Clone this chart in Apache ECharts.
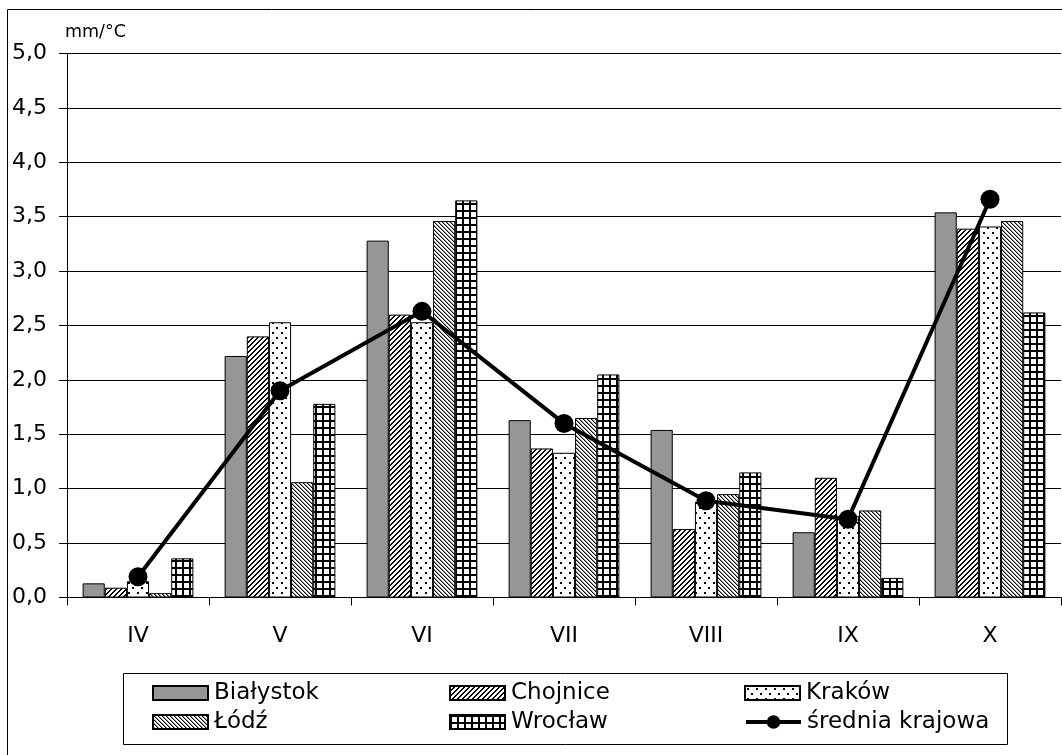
<!DOCTYPE html>
<html>
<head>
<meta charset="utf-8">
<script src="https://cdn.jsdelivr.net/npm/echarts@6/dist/echarts.min.js"></script>
<style>html,body{margin:0;padding:0;background:#fff;}#c{width:1062px;height:755px;}</style>
</head>
<body>
<div id="c"></div>
<script>
const categories = ['IV', 'V', 'VI', 'VII', 'VIII', 'IX', 'X'];
const seriesNames = ['Białystok', 'Chojnice', 'Kraków', 'Łódź', 'Wrocław', 'średnia krajowa'];
const bialystok = [0.13, 2.22, 3.28, 1.63, 1.54, 0.60, 3.54];
const chojnice  = [0.09, 2.40, 2.60, 1.37, 0.63, 1.10, 3.39];
const krakow    = [0.15, 2.53, 2.53, 1.33, 0.88, 0.75, 3.41];
const lodz      = [0.04, 1.06, 3.46, 1.65, 0.95, 0.80, 3.46];
const wroclaw   = [0.36, 1.78, 3.65, 2.05, 1.15, 0.18, 2.62];
const srednia   = [0.19, 1.90, 2.63, 1.60, 0.89, 0.72, 3.66];
const yMin = 0, yMax = 5, yStep = 0.5;
const unitLabel = 'mm/°C';

function tile(w, h, draw) {
  const c = document.createElement('canvas');
  c.width = w; c.height = h;
  const x = c.getContext('2d');
  x.fillStyle = '#fff'; x.fillRect(0, 0, w, h);
  x.fillStyle = '#000';
  draw(x, w, h);
  return c;
}
const patSlash = tile(5, 5, (x) => { for (let y = 0; y < 5; y++) { const x0 = 4 - y; x.fillRect(x0, y, 1, 1); x.fillRect((x0 + 1) % 5, y, 1, 1); } });
const patBack = tile(4, 4, (x) => {
  for (let y = 0; y < 4; y++) { x.fillStyle = '#000'; x.fillRect(y, y, 1, 1); x.fillStyle = '#999'; x.fillRect((y + 1) % 4, y, 1, 1); }
});
const patDots = tile(9, 10, (x) => { x.fillRect(2, 2, 2, 2); x.fillRect(6, 7, 2, 2); });
const patGrid = tile(7, 7, (x) => { x.fillRect(0, 0, 7, 2); x.fillRect(0, 0, 2, 7); });

const FONT = 'DejaVu Sans';
function barSeries(name, data, color) {
  return {
    name, type: 'bar', data,
    barGap: '0%', barCategoryGap: '22%',
    itemStyle: { color, borderColor: '#000', borderWidth: 1 },
    emphasis: { disabled: true }
  };
}
const legendCommon = {
  itemWidth: 55, itemHeight: 14, padding: 0, icon: 'rect',
  textStyle: { fontFamily: FONT, fontSize: 23, color: '#000', lineHeight: 24, padding: [0, 0, 0, 1] },
  selectedMode: false
};
const chart = echarts.init(document.getElementById('c'));
chart.setOption({
  animation: false,
  backgroundColor: '#fff',
  grid: { left: 67, right: 1, top: 53.5, bottom: 157.5 },
  xAxis: {
    type: 'category', data: categories,
    axisLine: { lineStyle: { color: '#000', width: 1 } },
    axisTick: { show: true, length: 8, lineStyle: { color: '#000' } },
    axisLabel: { fontFamily: FONT, fontSize: 22, color: '#000', margin: 28 }
  },
  yAxis: {
    type: 'value', min: yMin, max: yMax, interval: yStep,
    name: unitLabel, nameLocation: 'end', nameGap: 12,
    nameTextStyle: { fontFamily: FONT, fontSize: 17.5, color: '#000', align: 'left', padding: [0, 0, 0, -2] },
    axisLine: { show: true, lineStyle: { color: '#000', width: 1 } },
    axisTick: { show: true, length: 8, lineStyle: { color: '#000' } },
    axisLabel: { fontFamily: FONT, fontSize: 22, color: '#000', margin: 20,
      formatter: (v) => v.toFixed(1).replace('.', ',') },
    splitLine: { show: true, lineStyle: { color: '#000', width: 1 } }
  },
  legend: [
    Object.assign({ data: [seriesNames[0]], left: 152, top: 681 }, legendCommon),
    Object.assign({ data: [seriesNames[1]], left: 449, top: 681 }, legendCommon),
    Object.assign({ data: [seriesNames[2]], left: 744, top: 681 }, legendCommon),
    Object.assign({ data: [seriesNames[3]], left: 152, top: 710 }, legendCommon),
    Object.assign({ data: [seriesNames[4]], left: 449, top: 710 }, legendCommon),
    Object.assign({ data: [seriesNames[5]], left: 744, top: 710 }, legendCommon,
      { icon: null, itemHeight: 17, lineStyle: { width: 4, color: '#000' }, itemStyle: { color: '#000' } })
  ],
  graphic: [
    { type: 'rect', shape: { x: 7.5, y: 9.5, width: 1200, height: 900 }, style: { fill: 'none', stroke: '#000', lineWidth: 1 }, z: -1, silent: true },
    { type: 'rect', shape: { x: 123.5, y: 673.5, width: 884, height: 71 }, style: { fill: 'none', stroke: '#000', lineWidth: 1 }, z: -1, silent: true }
  ],
  series: [
    barSeries(seriesNames[0], bialystok, '#969696'),
    barSeries(seriesNames[1], chojnice, { image: patSlash, repeat: 'repeat' }),
    barSeries(seriesNames[2], krakow, { image: patDots, repeat: 'repeat' }),
    barSeries(seriesNames[3], lodz, { image: patBack, repeat: 'repeat' }),
    barSeries(seriesNames[4], wroclaw, { image: patGrid, repeat: 'repeat' }),
    {
      name: seriesNames[5], type: 'line', data: srednia,
      symbol: 'circle', symbolSize: 19,
      lineStyle: { color: '#000', width: 4 },
      itemStyle: { color: '#000' },
      z: 5, emphasis: { disabled: true }
    }
  ]
});
</script>
</body>
</html>
